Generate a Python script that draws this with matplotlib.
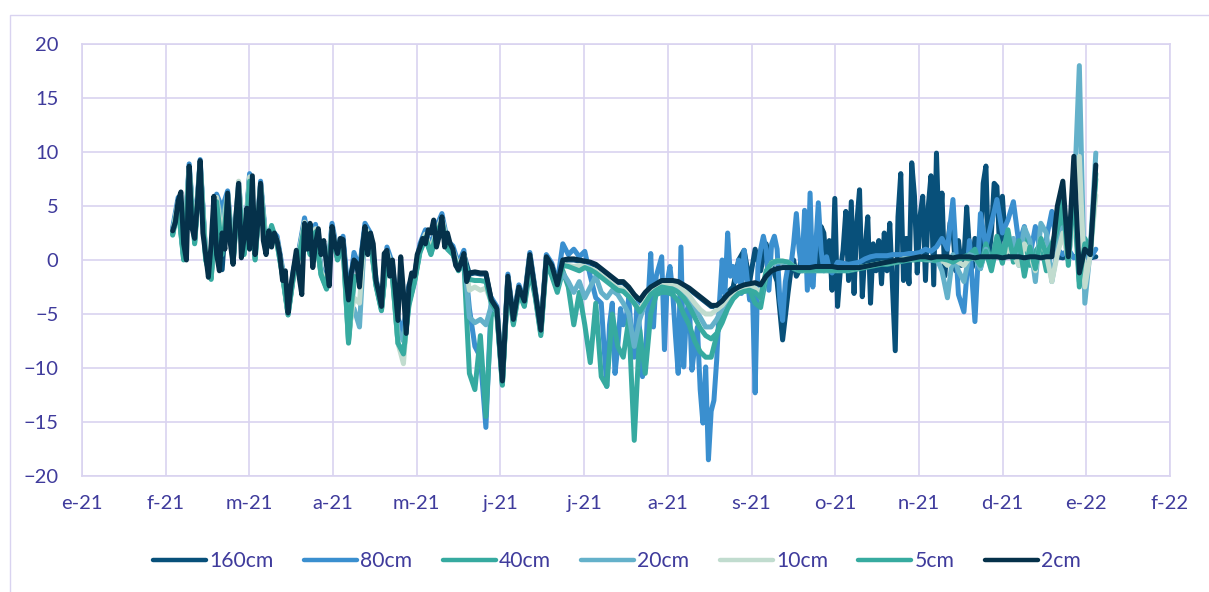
import numpy as np
import pandas as pd
import matplotlib
matplotlib.use('Agg')
import matplotlib.pyplot as plt
from matplotlib.patches import Rectangle

plt.rcParams['font.family'] = ['Lato', 'DejaVu Sans']

ORIGEN = pd.Timestamp('2021-01-01')

meses = ['e-21', 'f-21', 'm-21', 'a-21', 'm-21', 'j-21', 'j-21',
         'a-21', 's-21', 'o-21', 'n-21', 'd-21', 'e-22', 'f-22']

# ---- 160cm: every 2 days, daily 15 sep - 8 dec, every 2 days after
s160_a = [2.6, 5.4, 0.4, 8.6, 1.9, 9.1, 0.4, -1.4, 5.8, -0.9,
          6.1, 0.1, 6.9, 0.9, 7.7, 0.4, 7.0, 1.4, 2.4, 1.9,
          -1.1, -4.9, -1.1, 0.7, 3.5, 0.9, 2.9, -1.0, -2.3, 3.0,
          0.4, 1.8, -3.8, 0.4, -1.1, 3.0, 2.1, -2.0, -4.4, 0.8,
          -0.6, -5.7, -6.9, -2.6, -1.6, 1.1, 2.4, 0.9, 2.7, 3.9,
          1.4, 0.9, -0.6, 0.5, -1.3, -1.2, -1.3, -1.3, -3.8, -4.6,
          -11.3, -1.6, -5.6, -2.6, -3.9, 0.4, -3.1, -6.6, 0.2, -0.6,
          -2.4, -0.1, 0.0, 0.0, -0.1, -0.2, -0.3, -0.5, -0.9, -1.3,
          -1.7, -2.1, -2.1, -2.6, -3.3, -3.8, -3.1, -2.6, -2.3, -2.0,
          -2.0, -2.0, -2.1, -2.4, -2.7, -3.1, -3.5, -3.9, -4.3, -4.3,
          -3.8, -3.0, -2.5, 0.0, 0.9, -2.0, 1.0, -1.0, 1.5, -0.5,
          -2.0, -7.4]
s160_b = [-3.0, -1.0, 0.0, -1.5, -1.0, 0.5, 1.0, -1.0, -0.5, 0.5,
          2.0, -0.5, 3.1, 2.5, -0.6, 1.8, -2.8, 5.7, -4.3, -1.0,
          0.9, 4.5, -1.9, 5.4, -3.1, 3.4, 6.5, -3.4, 1.0, 4.0,
          -4.0, 1.5, -1.0, 1.8, -2.2, 2.5, -1.0, 3.4, -2.5, -8.4,
          4.0, 8.0, -1.9, 2.0, -2.2, 9.0, 5.9, -1.2, 4.0, 5.9,
          -1.9, 4.9, 7.8, -2.3, 9.9, 1.8, 6.2, -1.5, 1.2, 3.5,
          2.7, -1.0, 1.8, -0.5, 0.0, 4.9, 1.0, -0.7, 2.0, 1.8,
          -0.5, 7.1, 8.7, 0.0, 2.5, 7.1, 6.8, 1.0, 5.9, 1.8,
          1.5, 0.5, 1.0, 0.3, 0.2]
s160_c = [0.2, 0.3, 0.2, 0.3, 0.3, 0.5, 0.3, 0.2, 0.5, 0.3,
          0.2, 0.3, 0.2, 0.3]

# ---- 80cm: every 2 days, daily 9 jul - 1 oct, every 2 days after
s80_a = [3.0, 5.8, 0.6, 8.9, 2.2, 9.3, 0.6, -1.1, 6.1, 4.8,
         6.4, 0.4, 7.2, 1.2, 8.0, 0.7, 7.3, 1.7, 2.8, 2.2,
         -0.8, -4.6, -0.8, 1.0, 3.9, 1.2, 3.3, -0.7, -2.0, 3.4,
         0.7, 2.2, -3.5, 0.7, -0.8, 3.4, 2.5, -1.7, -4.1, 1.2,
         -0.3, -5.4, -6.6, -2.3, -1.3, 1.5, 2.8, 1.3, 3.1, 4.3,
         1.8, 1.3, -0.3, 0.9, -4.5, -8.0, -9.0, -15.5, -3.5, -4.3,
         -11.0, -1.3, -5.3, -2.3, -3.6, 0.7, -2.8, -6.3, 0.5, -0.3,
         -2.1, 1.5, 0.5, 1.0, 0.3, 0.8, -1.5, -3.5]
s80_b = [-4.0, -8.0, -11.7, -6.0, -4.0, -10.5, -8.0, -4.5, -6.0, -5.5,
         -3.5, -7.0, -9.0, -4.0, -6.5, -10.8, -9.5, -4.0, 0.6, -6.2,
         -1.5, -0.6, 0.3, -8.3, -2.0, -0.6, -3.0, -7.0, -10.5, 1.2,
         -9.9, -5.0, -3.7, -10.2, -8.0, -6.2, -12.0, -15.1, -9.9, -18.5,
         -14.0, -13.0, -9.3, -4.0, 0.0, -3.1, 2.5, -1.5, -0.6, -2.0,
         0.0, -3.1, 0.9, -1.5, -3.7, -2.8, -12.3, -0.6, 1.0, 2.2,
         1.0, -2.8, 1.5, 2.2, 1.0, -3.7, -5.6, -2.0, -0.5, -0.6,
         1.5, 4.3, 1.0, -1.0, 4.6, -2.8, 6.2, -2.5, 1.0, 5.3,
         0.9, -1.0, 0.3, -0.8, -1.2]
s80_c = [-0.2, -0.3, -0.4, -0.3, -0.2, 0.1, 0.3, 0.4, 0.4,
         0.4, 0.5, 0.5, 0.5, 0.6, 0.6, 0.7, 1.0, 0.8, 1.2,
         2.0, 1.0, 5.6, -3.2, -4.8, 1.8, -5.7, 4.3, 1.2, 3.4,
         5.6, 2.5, 3.7, 5.4, 1.5, 3.1, 0.3, 3.1, 0.5, 2.0,
         4.5, 1.0, 0.5, 1.0, 0.2, 0.5, 0.3, 0.2, 1.0]

# ---- 40cm, 20cm, 10cm, 5cm: every 2 days from 3 feb
s40 = [2.3, 4.9, 0.0, 8.1, 1.5, 8.6, 0.0, -1.8, 5.3, 0.5,
       5.7, -0.3, 6.5, 0.5, 7.2, 0.0, 6.6, 1.0, 2.8, 1.5,
       -1.5, -5.1, -1.5, 0.3, 3.1, 0.5, 2.5, -1.4, -2.7, 2.6,
       0.0, 1.3, -7.7, -2.0, -1.5, 2.6, 1.7, -2.4, -4.7, 0.4,
       -1.6, -7.7, -8.7, -4.2, -2.1, 0.7, 2.0, 0.5, 2.3, 3.5,
       1.0, 0.5, -1.0, -0.2, -10.5, -12.0, -7.0, -14.5, -5.0, -5.0,
       -11.6, -2.0, -6.0, -3.0, -4.3, -1.0, -3.5, -7.0, -0.3, -1.5,
       -3.0, -1.0, -2.5, -6.0, -3.0, -6.0, -9.5, -4.0, -10.8, -11.7,
       -5.0, -8.0, -9.0, -5.5, -16.7, -6.5, -10.5, -5.0, -3.2, -3.0,
       -3.0, -3.2, -3.8, -5.0, -6.0, -7.5, -8.5, -9.0, -9.0, -7.0,
       -5.0, -3.8, -3.3, -3.0, -2.9, -2.8, -4.0, -4.4, -1.5, -0.2,
       -0.1, -0.2, -0.3, -0.8, -1.0, -1.0, -1.0, -1.0, -1.0, -1.0,
       -1.0, -1.0, -1.0, -1.0, -0.9, -0.8, -0.7, -0.6, -0.5, -0.4,
       -0.4, -0.3, -0.2, -0.1, 0.0, 0.0, 0.1, 0.0, 0.0, -0.1,
       0.0, -0.2, -0.5, 0.0, 0.3, 0.5, 1.0, -0.8, 1.5, -0.3,
       2.2, 0.5, 2.8, -0.2, 1.0, 2.0, -0.5, 0.8, 1.5, -1.0,
       1.0, 2.0, 4.0, 0.0, 6.0, -2.5, 2.0, 1.0, 7.5]

s20 = [2.5, 5.3, 0.3, 8.5, 1.8, 9.0, 0.3, -1.5, 5.7, 3.5,
       6.0, 0.0, 6.8, 0.8, 7.6, 0.3, 6.9, 1.3, 2.3, 1.8,
       -1.2, -5.0, -1.2, 0.6, 3.4, 0.8, 2.8, -1.1, -2.4, 2.9,
       0.3, 1.5, -5.5, -4.5, -6.2, 2.9, 2.0, -2.1, -4.5, 0.7,
       -1.0, -6.5, -7.5, -3.5, -1.8, 1.0, 2.3, 0.8, 2.6, 3.8,
       1.3, 0.8, -0.7, 0.3, -5.3, -5.8, -5.5, -6.0, -4.2, -4.8,
       -11.4, -1.8, -5.7, -2.7, -4.0, 0.3, -3.2, -6.7, 0.1, -0.7,
       -2.5, -1.2, -2.0, -3.0, -2.0, -3.5, -2.5, -1.5, -3.0, -3.5,
       -2.8, -3.2, -4.0, -5.0, -8.0, -5.5, -4.0, -3.0, -2.6, -2.4,
       -2.3, -2.4, -2.6, -3.0, -3.8, -4.5, -5.3, -6.2, -6.2, -5.5,
       -4.5, -3.6, -3.0, -2.7, -2.5, -2.4, -2.8, -3.5, -1.3, -0.4,
       -0.2, -0.2, -0.3, -0.7, -0.9, -0.9, -0.9, -0.9, -0.9, -0.9,
       -0.9, -0.9, -0.9, -0.9, -0.8, -0.7, -0.6, -0.5, -0.4, -0.3,
       -0.3, -0.2, -0.1, 0.0, 0.1, 0.1, 0.2, 0.1, 0.0, 0.2,
       -1.0, -3.5, 0.5, -1.0, -2.0, 0.5, 0.3, -0.8, 1.0, -0.5,
       0.8, 0.0, 1.5, 2.0, -0.5, 3.0, 1.8, -2.0, 3.4, 2.5,
       -2.0, 1.0, 3.0, 0.0, 5.0, 18.0, -4.0, 1.0, 9.9]

s10 = [2.6, 5.4, 0.4, 8.6, 1.9, 9.1, 0.4, -1.4, 5.8, 2.0,
       6.1, 0.1, 7.3, 0.9, 7.7, 0.4, 7.0, 1.4, 2.4, 1.9,
       -1.1, -4.9, -1.1, 0.7, 3.5, 0.9, 2.9, -1.0, -2.3, 3.0,
       0.4, 1.6, -6.8, -3.5, -4.0, 3.0, 2.1, -2.0, -4.4, 0.8,
       -0.8, -7.7, -9.6, -3.0, -1.7, 1.1, 2.4, 0.9, 2.7, 3.9,
       1.4, 0.9, -0.6, 0.5, -2.8, -2.5, -2.8, -2.6, -3.9, -4.7,
       -11.3, -1.7, -5.6, -2.6, -3.9, 0.4, -3.1, -6.6, 0.2, -0.6,
       -2.4, -0.4, -0.5, -0.6, -0.5, -0.6, -0.8, -1.0, -1.4, -1.8,
       -2.2, -2.6, -2.7, -3.2, -4.0, -4.6, -3.8, -3.0, -2.6, -2.3,
       -2.2, -2.2, -2.4, -2.8, -3.3, -4.0, -4.6, -5.0, -5.0, -4.6,
       -4.2, -3.5, -3.0, -2.7, -2.5, -2.4, -2.6, -3.0, -1.2, -0.3,
       -0.1, -0.1, -0.2, -0.6, -0.8, -0.9, -0.8, -0.9, -0.8, -0.9,
       -0.8, -0.9, -0.8, -0.9, -0.8, -0.7, -0.6, -0.5, -0.4, -0.3,
       -0.3, -0.2, -0.1, 0.1, 0.1, 0.1, 0.2, 0.1, 0.1, 0.1,
       0.0, -0.5, 0.2, -0.2, -0.5, 0.2, 0.2, -0.3, 0.5, -0.2,
       0.6, 0.0, 1.0, 0.5, -0.5, 1.5, 0.5, -1.0, 2.0, 0.5,
       -2.0, 0.5, 2.5, 0.0, 4.0, 9.6, -2.5, 0.5, 6.0]

s5 = [2.4, 5.0, 0.1, 8.2, 1.6, 8.7, 0.1, -1.7, 5.4, 0.8,
      5.8, -0.2, 6.6, 0.6, 7.3, 0.1, 6.7, 1.1, 3.2, 1.6,
      -1.4, -5.0, -1.4, 0.4, 3.2, 0.6, 2.6, -1.3, -2.6, 2.7,
      0.1, 1.4, -7.5, -1.5, -1.9, 2.7, 1.8, -2.3, -4.6, 0.5,
      -1.5, -7.7, -8.7, -4.0, -2.0, 0.8, 2.1, 0.6, 2.4, 3.6,
      1.1, 0.6, -0.9, 0.2, -1.8, -1.9, -1.9, -2.0, -4.0, -4.8,
      -11.5, -2.0, -5.8, -2.8, -4.2, 0.2, -3.3, -6.8, 0.0, -0.8,
      -2.6, -0.5, -0.6, -0.8, -1.0, -0.7, -0.9, -1.2, -1.6, -2.0,
      -2.4, -2.8, -2.9, -3.4, -4.0, -4.8, -4.0, -3.2, -2.8, -2.5,
      -2.6, -2.7, -3.0, -3.5, -4.3, -5.3, -6.3, -7.0, -7.3, -6.8,
      -5.8, -4.5, -3.6, -3.1, -2.9, -2.8, -3.0, -3.5, -1.0, -0.3,
      -0.1, -0.1, -0.2, -0.6, -0.9, -0.9, -0.9, -0.9, -0.9, -0.9,
      -0.9, -0.9, -0.9, -0.9, -0.8, -0.7, -0.6, -0.5, -0.4, -0.3,
      -0.3, -0.2, -0.1, 0.0, 0.1, 0.1, 0.1, 0.1, 0.1, 0.0,
      0.1, 0.0, -0.2, 0.1, 0.2, 0.1, 0.3, -0.5, 0.8, -1.0,
      1.5, -0.3, 2.5, 0.2, 1.8, -1.5, 1.2, -0.8, 2.0, 0.5,
      1.5, 3.0, 5.5, -0.5, 7.0, -2.0, 1.5, 0.5, 8.0]

# ---- 2cm: daily 3 feb - 20 may, every 2 days after
s2_a = [2.7, 3.5, 5.5, 6.3, 1.5, 0.0, 8.7, 3.0, 2.0, 5.2,
        9.2, 2.5, 0.5, -1.6, 1.5, 5.9, 0.5, -1.0, 2.5, 1.0,
        6.2, 1.5, -0.4, 4.0, 7.1, 0.2, 2.0, 4.8, 1.0, 7.8,
        0.5, 3.5, 7.1, 1.8, 0.5, 2.7, 1.2, 2.5, 1.8, 0.5,
        -1.9, -1.0, -4.9, -2.5, -0.8, 0.9, -1.5, -3.2, 3.4, 1.0,
        3.4, -0.7, 1.5, 2.9, 0.5, 1.8, -0.5, -2.4, 3.1, 1.5,
        0.6, 2.0, 1.9, -1.5, -3.7, -1.2, 0.0, -0.3, -2.5, 1.0,
        3.1, 0.5, 2.5, 1.5, -1.9, -3.0, -4.3, 0.6, 0.9, -1.5,
        0.0, -2.8, -5.6, 0.3, -3.0, -6.8, -2.5, -1.2, -1.5, 0.5,
        1.2, 2.0, 1.5, 2.8, 2.5, 3.7, 1.2, 2.2, 4.0, 1.2,
        2.5, 1.5, 1.0, -0.5, -0.9, -0.2, 0.6, -2.0]
s2_b = [-1.2, -1.1, -1.2, -1.2, -3.7, -4.5,
        -11.2, -1.5, -5.5, -2.5, -3.8, 0.5, -3.0, -6.5, 0.3, -0.5,
        -2.3, 0.0, 0.1, 0.1, 0.0, -0.1, -0.2, -0.4, -0.8, -1.2,
        -1.6, -2.0, -2.0, -2.5, -3.2, -3.7, -3.0, -2.5, -2.2, -1.9,
        -1.9, -1.9, -2.0, -2.3, -2.6, -3.0, -3.4, -3.8, -4.2, -4.2,
        -3.8, -3.2, -2.8, -2.5, -2.3, -2.2, -2.1, -2.3, -1.5, -1.0,
        -0.8, -0.7, -0.7, -0.7, -0.7, -0.7, -0.7, -0.6, -0.6, -0.6,
        -0.6, -0.7, -0.7, -0.7, -0.7, -0.7, -0.6, -0.5, -0.4, -0.3,
        -0.2, -0.1, 0.0, 0.0, 0.1, 0.2, 0.3, 0.3, 0.2, 0.3,
        0.3, 0.3, 0.2, 0.3, 0.3, 0.3, 0.2, 0.3, 0.3, 0.3,
        0.3, 0.2, 0.3, 0.3, 0.3, 0.2, 0.3, 0.3, 0.2, 0.3,
        0.3, 5.0, 7.3, 0.3, 9.6, -1.2, 1.0, 0.5, 8.8]


def tramos(*partes):
    """Join (start date, step, values) pieces into day positions and values."""
    x, y = [], []
    for inicio, paso, vals in partes:
        f = pd.date_range(inicio, periods=len(vals), freq=paso)
        x.extend((f - ORIGEN).days)
        y.extend(vals)
    return np.array(x), np.array(y)


series = [
    ('160cm', tramos(('2021-02-03', '2D', s160_a), ('2021-09-15', 'D', s160_b),
                     ('2021-12-10', '2D', s160_c)), '#08507a'),
    ('80cm', tramos(('2021-02-03', '2D', s80_a), ('2021-07-09', 'D', s80_b),
                    ('2021-10-03', '2D', s80_c)), '#3a8fcf'),
    ('40cm', tramos(('2021-02-03', '2D', s40)), '#36aaa0'),
    ('20cm', tramos(('2021-02-03', '2D', s20)), '#64b1ca'),
    ('10cm', tramos(('2021-02-03', '2D', s10)), '#c1dccf'),
    ('5cm', tramos(('2021-02-03', '2D', s5)), '#37aba0'),
    ('2cm', tramos(('2021-02-03', 'D', s2_a), ('2021-05-22', '2D', s2_b)), '#05314a'),
]

lila = '#d9d3f0'
azul_texto = '#3f3b9c'

fig = plt.figure(figsize=(12.09, 5.92), dpi=100)
ax = fig.add_axes([82 / 1209, 116 / 592, 1088 / 1209, 432 / 592])

for nombre, (x, y), c in series:
    ax.plot(x, y, color=c, lw=3.6, label=nombre,
            solid_joinstyle='round', solid_capstyle='round')

ax.set_xlim(0, 396)
ax.set_ylim(-20, 20)
ax.set_xticks(np.linspace(0, 396, len(meses)))
ax.set_xticklabels(meses)
ax.set_yticks(np.arange(-20, 21, 5))
ax.tick_params(axis='both', length=0, labelsize=14.5, labelcolor=azul_texto)
ax.tick_params(axis='y', pad=17)
ax.tick_params(axis='x', pad=14)
ax.grid(True, color=lila, lw=1.2)
ax.set_axisbelow(True)
for sp in ax.spines.values():
    sp.set_color(lila)
    sp.set_linewidth(1.2)

ley = fig.legend(loc='center', ncol=7, bbox_to_anchor=(617 / 1209, 1 - 561 / 592),
                 frameon=False, fontsize=15.2, labelcolor=azul_texto,
                 handlelength=2.5, handletextpad=0.15, columnspacing=1.45)
for linea in ley.get_lines():
    linea.set_linewidth(3.2)

# chart area border
fig.patches.append(Rectangle((10 / 1209, -0.05), 1.1, 1 - 15 / 592 + 0.05,
                             transform=fig.transFigure, fill=False,
                             ec=lila, lw=1.0))

fig.savefig('out.png', dpi=100)
